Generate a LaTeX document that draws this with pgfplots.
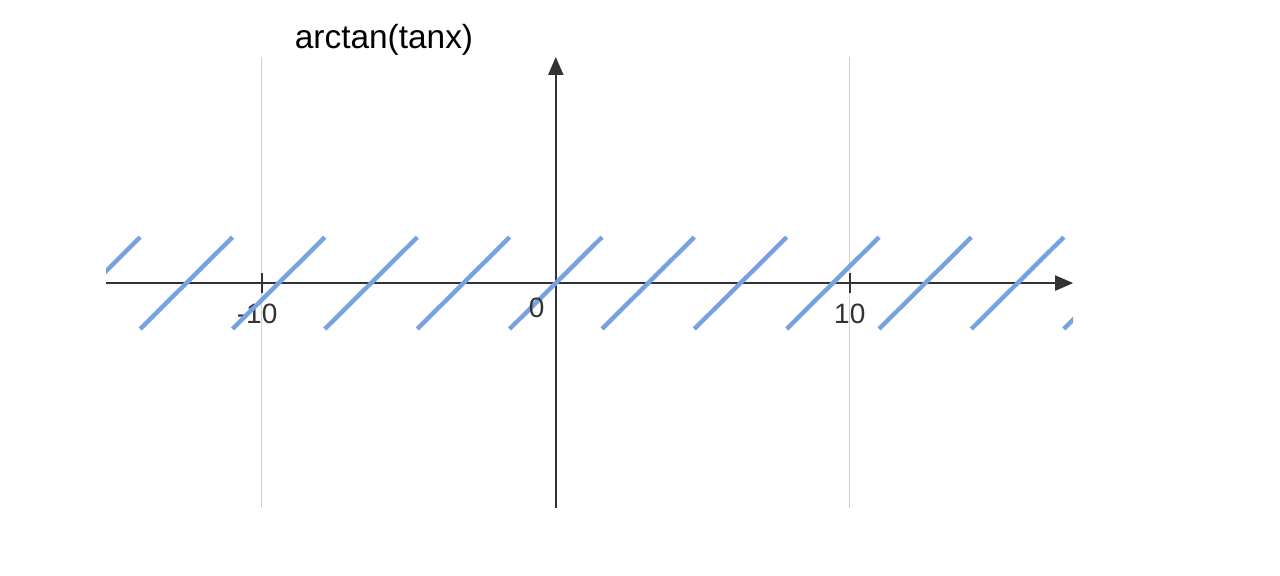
\documentclass[border=0pt]{standalone}
\usepackage{pgfplots}
\pgfplotsset{compat=1.18}
\usepackage{fontspec}
\setmainfont{Liberation Sans}
\usetikzlibrary{arrows.meta}
\definecolor{lineblue}{RGB}{118,162,228}
\definecolor{axisgray}{RGB}{51,51,51}
\definecolor{gridgray}{RGB}{208,208,208}
\begin{document}
\begin{tikzpicture}
\useasboundingbox (0,0) rectangle (640pt,288pt);
\begin{axis}[
  at={(53pt,34pt)}, anchor=south west,
  scale only axis,
  width=483.6pt, height=225.5pt,
  xmin=-15.3, xmax=17.6,
  ymin=-7.7, ymax=7.74,
  axis lines=middle,
  axis line style={color=axisgray, line width=1.1pt, -{Triangle[length=9pt,width=7.5pt]}},
  xtick={-10,10},
  xticklabels={\llap{-}10,10},
  ytick=\empty,
  xmajorgrids,
  grid style={color=gridgray, line width=0.6pt},
  tick align=center,
  major tick length=10pt,
  tick style={color=axisgray, line width=1.1pt},
  xticklabel style={font=\fontsize{14}{16}\selectfont, text=axisgray, anchor=north, inner sep=0pt, yshift=-5pt},
  unbounded coords=jump,
]
\addplot[color=lineblue, line width=2.2pt] coordinates {
(-17.279,-1.5708) (-14.137,1.5708) (-14.137,nan)
(-14.137,-1.5708) (-10.996,1.5708) (-10.996,nan)
(-10.996,-1.5708) (-7.854,1.5708) (-7.854,nan)
(-7.854,-1.5708) (-4.712,1.5708) (-4.712,nan)
(-4.712,-1.5708) (-1.5708,1.5708) (-1.5708,nan)
(-1.5708,-1.5708) (1.5708,1.5708) (1.5708,nan)
(1.5708,-1.5708) (4.712,1.5708) (4.712,nan)
(4.712,-1.5708) (7.854,1.5708) (7.854,nan)
(7.854,-1.5708) (10.996,1.5708) (10.996,nan)
(10.996,-1.5708) (14.137,1.5708) (14.137,nan)
(14.137,-1.5708) (17.279,1.5708) (17.279,nan)
(17.279,-1.5708) (20.420,1.5708)
};
\node[font=\fontsize{14}{16}\selectfont, text=axisgray] at (axis cs:-0.65,-0.86) {0};
\end{axis}
\node[font=\fontsize{16.7}{20}\selectfont, text=black] at (192pt,268pt) {arctan(tanx)};
\end{tikzpicture}
\end{document}
